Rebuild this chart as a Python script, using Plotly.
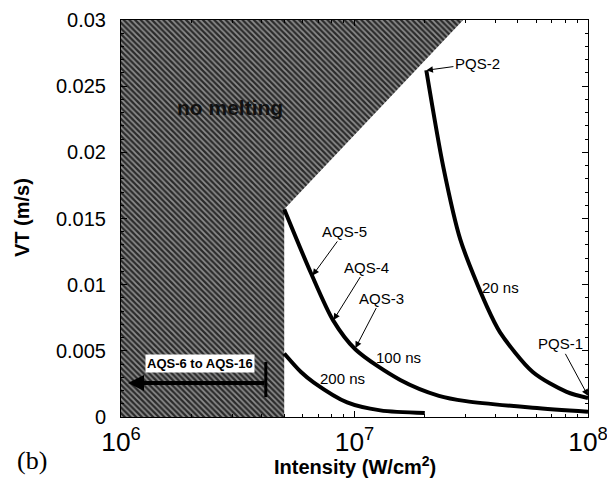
import plotly.graph_objects as go

# no-melting region boundary (hatched)
nomelt_x = [1e6, 5.0e6, 5.0e6, 2.92e7, 1e6]
nomelt_y = [0.0, 0.0, 0.0157, 0.03, 0.03]

# 20 ns curve
ns20_x = [2.03e7, 2.4e7, 2.84e7, 3.7e7, 4.2e7, 5.8e7, 8.1e7, 1.0e8]
ns20_y = [0.0262, 0.0189, 0.0134, 0.0083, 0.0064, 0.0034, 0.0019, 0.00144]

# 100 ns curve
ns100_x = [5.0e6, 6.5e6, 8.1e6, 1.01e7, 1.57e7, 2.3e7, 3.0e7, 5.8e7, 1.0e8]
ns100_y = [0.0157, 0.0109, 0.0073, 0.0051, 0.0028, 0.0016, 0.0012, 0.0007, 0.0004]

# 200 ns curve
ns200_x = [5.0e6, 5.9e6, 6.7e6, 9.3e6, 1.29e7, 2.0e7]
ns200_y = [0.0048, 0.0034, 0.0026, 0.0011, 0.0005, 0.0003]

y_ticks = [0, 0.005, 0.01, 0.015, 0.02, 0.025, 0.03]
y_labels = ["0", "0.005", "0.01", "0.015", "0.02", "0.025", "0.03"]

W, H = 607, 487
L, R, T, B = 121, 19, 20, 70
PW, PH = W - L - R, H - T - B


def px2paper(px, py):
    return (px - L) / PW, (H - B - py) / PH


fig = go.Figure()
fig.add_trace(go.Scatter(
    x=nomelt_x, y=nomelt_y, mode="lines", fill="toself",
    line=dict(width=0, color="rgba(0,0,0,0)"),
    fillcolor="#444",
    fillpattern=dict(shape="\\", bgcolor="#2a2a2a", fgcolor="#f0f0f0",
                     size=4, solidity=0.45),
    hoverinfo="skip", showlegend=False))

for xs, ys in [(ns20_x, ns20_y), (ns100_x, ns100_y), (ns200_x, ns200_y)]:
    fig.add_trace(go.Scatter(x=xs, y=ys, mode="lines",
                             line=dict(color="black", width=4, shape="spline", smoothing=0.8),
                             showlegend=False))

FONT = "Liberation Sans, Arial"
font_ann = dict(family=FONT, size=15, color="black")


def ann(text, x, y, ax, ay):
    fig.add_annotation(x=x, y=y, xref="x", yref="y", text=text, showarrow=True,
                       ax=ax, ay=ay, arrowhead=2, arrowsize=1.3, arrowwidth=1,
                       arrowcolor="black", font=font_ann, standoff=0)


def ptext(text, x, y, font, **kw):
    px, py = px2paper(x, y)
    fig.add_annotation(x=px, y=py, xref="paper", yref="paper", text=text,
                       showarrow=False, xanchor="center", yanchor="middle",
                       font=font, **kw)


ann("PQS-2", 7.308, 0.0262, 51, -7)
ann("PQS-1", 8.0, 0.0016, -28, -52)
ann("AQS-5", 6.8205, 0.0107, 32, -44)
ann("AQS-4", 6.910, 0.00733, 33, -53)
ann("AQS-3", 7.004, 0.00521, 26, -50)

for text, x, y in [("20 ns", 500, 287), ("100 ns", 398, 357), ("200 ns", 342, 378)]:
    ptext(text, x, y, font_ann)

# "no melting" label
ptext("<b>no melting</b>", 230, 108, dict(family=FONT, size=21, color="#111"))

# AQS-6 to AQS-16 arrow
fig.add_annotation(x=6.03, y=0.00257, xref="x", yref="y", text="", showarrow=True,
                   ax=138, ay=0, arrowhead=2, arrowsize=0.8, arrowwidth=4,
                   arrowcolor="black")
fig.add_shape(type="line", x0=4.17e6, x1=4.17e6, y0=0.0015, y1=0.00416,
              xref="x", yref="y", line=dict(color="black", width=3))
ptext("<b>AQS-6 to AQS-16</b>", 200, 363, dict(family=FONT, size=13, color="black"),
      bgcolor="white", borderpad=1)

# (b)
ptext("(b)", 32, 460, dict(family="Liberation Serif, Times New Roman", size=26, color="black"))

# axis titles
ptext("<b>Intensity (W/cm<sup>2</sup>)</b>", 355, 465, dict(family=FONT, size=20, color="black"))
ptext("<b>VT (m/s)</b>", 22, 218, dict(family=FONT, size=20, color="black"), textangle=-90)

fig.update_xaxes(type="log", range=[6, 8], dtick=1, exponentformat="power",
                 showline=True, linecolor="black", linewidth=1, mirror="allticks",
                 ticks="inside", ticklen=6, tickcolor="black",
                 minor=dict(ticks="inside", ticklen=3, tickcolor="black", showgrid=False),
                 showgrid=False, zeroline=False, ticklabelstandoff=3,
                 ticklabeloverflow="allow", automargin=False,
                 tickfont=dict(family=FONT, size=21, color="black"))
fig.update_yaxes(range=[0, 0.03], tickvals=y_ticks, ticktext=y_labels,
                 showline=True, linecolor="black", linewidth=1, mirror="allticks",
                 ticks="inside", ticklen=6, tickcolor="black",
                 minor=dict(ticks="inside", ticklen=3, tickcolor="black", dtick=0.001, showgrid=False),
                 showgrid=False, zeroline=False, ticklabelstandoff=10, automargin=False,
                 tickfont=dict(family=FONT, size=20, color="black"))

fig.update_layout(width=W, height=H, margin=dict(l=L, r=R, t=T, b=B),
                  plot_bgcolor="white", paper_bgcolor="white", showlegend=False)

fig.write_html("out.html")
